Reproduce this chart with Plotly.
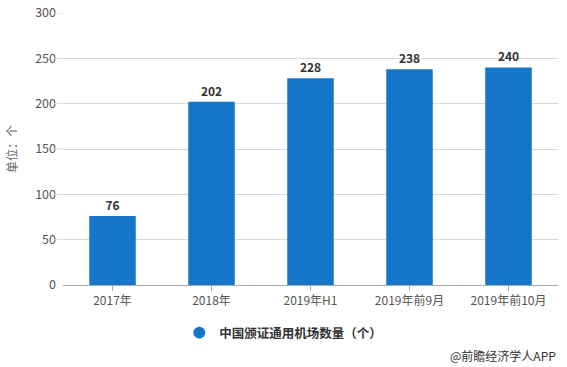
import plotly.graph_objects as go

categories = ["2017年", "2018年", "2019年H1", "2019年前9月", "2019年前10月"]
values = [76, 202, 228, 238, 240]
series_name = "中国颁证通用机场数量（个）"
y_ticks = [0, 50, 100, 150, 200, 250, 300]

font_family = "Noto Sans CJK SC, Microsoft YaHei, sans-serif"
bar_color = "#1677c8"

W, H = 567, 367
L, R, T, B = 63, 9, 13, 82
plot_h = H - T - B

fig = go.Figure()
fig.add_trace(go.Bar(
    x=categories, y=values, name=series_name, showlegend=False,
    marker=dict(color=bar_color, line=dict(width=0)),
    width=0.47,
    text=[str(v) for v in values], textposition="outside",
    textfont=dict(family=font_family, size=12, color="#333333", weight="bold"),
    cliponaxis=False,
))
# legend entry with round symbol
fig.add_trace(go.Scatter(
    x=[None], y=[None], mode="markers", name=series_name,
    marker=dict(symbol="circle", size=13, color=bar_color),
))

# gridline stubs extending left of the axis
for t in y_ticks[1:]:
    fig.add_shape(type="line", xref="paper", yref="y", x0=-0.021, x1=0, y0=t, y1=t,
                  line=dict(color="#d9d9d9", width=1))

fig.update_layout(
    width=W, height=H,
    margin=dict(l=L, r=R, t=T, b=B, autoexpand=False),
    plot_bgcolor="white", paper_bgcolor="white",
    font=dict(family=font_family, size=12, color="#555555"),
    showlegend=True,
    legend=dict(orientation="h", x=0.235, xanchor="left", yref="container",
                y=1 - 333 / H, yanchor="middle",
                font=dict(size=12.5, color="#333333", weight="bold"),
                itemsizing="constant"),
    xaxis=dict(showline=True, linecolor="#aaaaaa", ticks="outside", ticklen=5,
               tickcolor="#aaaaaa", tickfont=dict(size=12, color="#555555"),
               showgrid=False),
    yaxis=dict(range=[0, 300], tickvals=y_ticks, showgrid=True, gridcolor="#d9d9d9",
               zeroline=False, tickfont=dict(size=12.5, color="#555555"), ticklen=0,
               ticklabelstandoff=6, ticklabeloverflow="allow",
               title=dict(text="单位：个", font=dict(size=12, color="#666666"), standoff=14)),
    annotations=[dict(text="@前瞻经济学人APP", xref="paper", yref="paper", x=1.0,
                      y=(H - B - 355) / plot_h, xanchor="right", yanchor="middle",
                      showarrow=False, font=dict(size=12, color="#333333"))],
)

fig.write_html("out.html",
               config={"displayModeBar": False},
               post_script="document.body.style.margin='0';document.body.style.overflow='hidden';")
